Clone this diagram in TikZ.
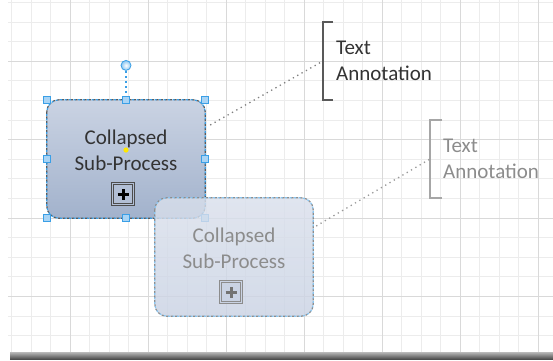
\documentclass[tikz,border=0pt]{standalone}
\usepackage{fontspec}
\setmainfont{Carlito}
\usepackage{tikz}
\usepackage{xcolor}
\usetikzlibrary{positioning}

\definecolor{gridminor}{HTML}{ECECEC}
\definecolor{gridmajor}{HTML}{D9D9D9}
\definecolor{selblue}{HTML}{3A9FE6}
\definecolor{handlefill}{HTML}{A9D4F5}
\definecolor{sptop}{HTML}{CAD3E3}
\definecolor{spbot}{HTML}{A2B2CC}
\definecolor{ghtop}{HTML}{DAE0EC}
\definecolor{ghbot}{HTML}{CAD3E4}
\definecolor{darktext}{HTML}{333333}
\definecolor{ghosttext}{HTML}{8C8C8C}

\begin{document}
\begin{tikzpicture}[
x=1pt, y=-1pt,
every node/.style={font=\fontsize{21}{26}\selectfont},
subproc/.style={rounded corners=12pt, minimum width=158pt, minimum height=118pt, inner sep=0pt},
sptext/.style={align=center, inner sep=0pt},
plusbox/.style={draw, line width=1pt, double distance=1.2pt, minimum size=21pt, inner sep=0pt,
  path picture={\draw[line width=3pt, plusink]
    ([xshift=-5.5pt]path picture bounding box.center) -- ([xshift=5.5pt]path picture bounding box.center)
    ([yshift=-5.5pt]path picture bounding box.center) -- ([yshift=5.5pt]path picture bounding box.center);}},
plusink/.style={black},
handle/.style={draw=selblue, fill=handlefill, line width=0.8pt, minimum size=7pt, inner sep=0pt},
rothandle/.style={circle, draw=selblue, line width=0.8pt, inner color=white, outer color=handlefill!70!selblue, minimum size=10pt, inner sep=0pt},
annot/.style={align=left, anchor=west, minimum height=78pt, inner xsep=13pt, inner ysep=0pt},
bracket/.style={line width=2.2pt, line cap=butt},
assoc/.style={gray, line width=1.3pt, dash pattern=on 1.3pt off 3.7pt},
graydash/.style={line width=1.2pt, dash pattern=on 2.5pt off 2pt},
bluedash/.style={selblue, line width=1.2pt, dash pattern=on 2pt off 2.5pt, dash phase=2.5pt}
]
\useasboundingbox (0,0) rectangle (553,360);
% canvas and grid
\fill[white] (0,0) rectangle (553,360);
\foreach \k in {0,...,27} {
  \draw[gridminor, line width=0.8pt] (11.5+19.5*\k,0) -- (11.5+19.5*\k,352);
}
\foreach \k in {0,...,17} {
  \draw[gridminor, line width=0.8pt] (8,2.4+19.6*\k) -- (553,2.4+19.6*\k);
}
\foreach \k in {0,...,6} {
  \draw[gridmajor, line width=0.9pt] (70+78*\k,0) -- (70+78*\k,352);
}
\foreach \k in {0,...,4} {
  \draw[gridmajor, line width=0.9pt] (8,61.2+78.4*\k) -- (553,61.2+78.4*\k);
}
\shade[top color=gray!55, bottom color=black!70] (10,352) rectangle (553,359);

% selected sub-process
\node[subproc, top color=sptop, bottom color=spbot] (sp1) at (126,159) {};
\draw[graydash, draw=black!65, rounded corners=12pt] (sp1.north west) rectangle (sp1.south east);
\draw[bluedash, rounded corners=12pt] (sp1.north west) rectangle (sp1.south east);
\node[sptext, text=darktext, yshift=9pt] (sp1t) at (sp1.center) {Collapsed\\Sub-Process};
\fill[yellow!90!orange] (sp1t.center) circle (2.6pt);
\node[plusbox, draw=black!70, double=spbot!60!sptop, fill=spbot!60!sptop, above=13pt of sp1.south, xshift=-3pt] (pm1) {};
\node[rothandle, above=29pt of sp1.north] (rot) {};
\draw[selblue, line width=1.6pt, dash pattern=on 2pt off 3pt] (rot) -- (sp1.north);
\foreach \a in {north west, north, north east, east, south east, south, south west, west}
  \node[handle] at (sp1.\a) {};

% annotation of the selected shape
\node[annot, text=darktext] (ann1) at (323,61) {Text\\Annotation};
\draw[bracket, black!65] ([xshift=10pt]ann1.north west) -- (ann1.north west) -- (ann1.south west) -- ([xshift=10pt]ann1.south west);
\draw[assoc] ([shift={(5pt,34pt)}]sp1.east) -- (ann1.west);

% ghost copy while dragging
\node[subproc, top color=ghtop, bottom color=ghbot, opacity=0.82] (sp2) at (234,257) {};
\draw[graydash, draw=black!45, rounded corners=12pt] (sp2.north west) rectangle (sp2.south east);
\draw[bluedash, selblue!60, rounded corners=12pt] (sp2.north west) rectangle (sp2.south east);
\node[sptext, text=ghosttext, yshift=9pt] (sp2t) at (sp2.center) {Collapsed\\Sub-Process};
\node[plusbox, draw=black!45, double=ghbot, fill=ghbot, plusink/.style={black!55}, above=13pt of sp2.south, xshift=-3pt] (pm2) {};

\node[annot, text=ghosttext] (ann2) at (430,159) {Text\\Annotation};
\draw[bracket, black!35] ([xshift=12pt]ann2.north west) -- (ann2.north west) -- (ann2.south west) -- ([xshift=12pt]ann2.south west);
\draw[assoc, gray!80] ([shift={(3pt,31pt)}]sp2.east) -- (ann2.west);
\end{tikzpicture}
\end{document}
